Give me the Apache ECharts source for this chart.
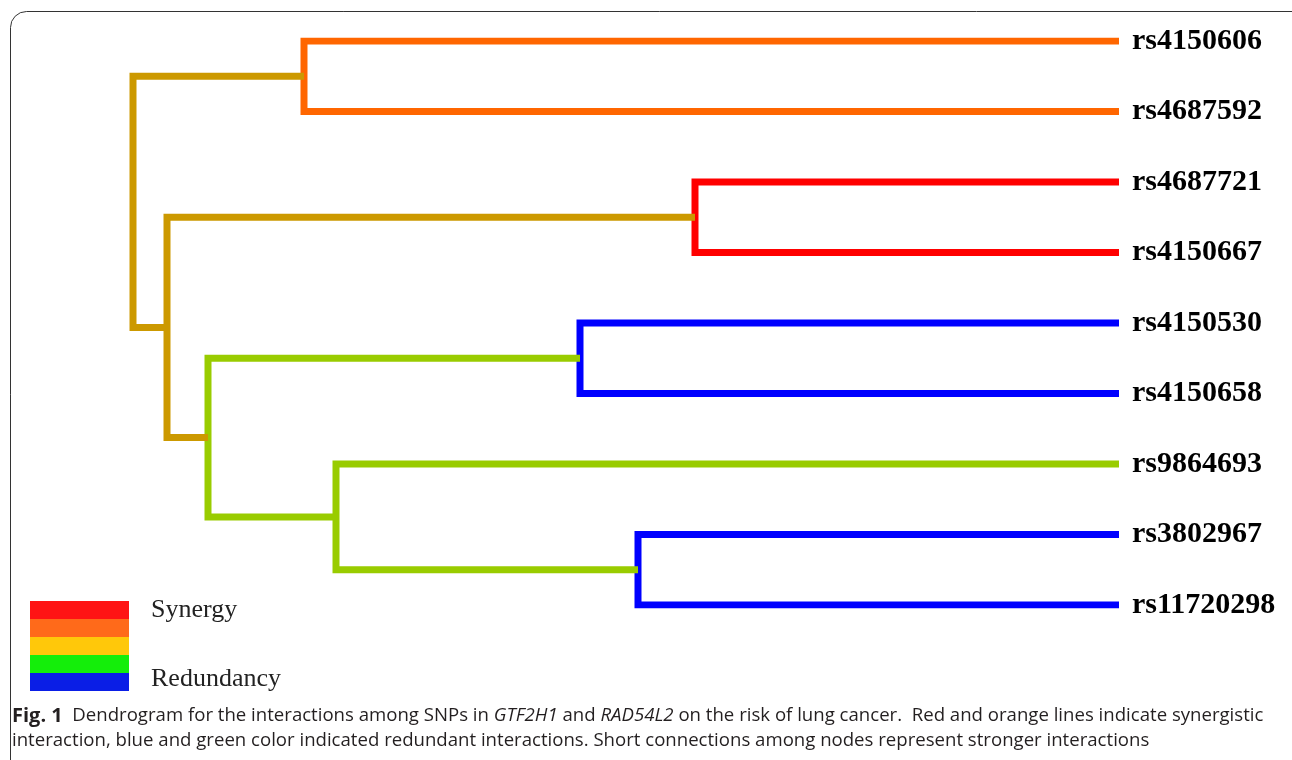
<!DOCTYPE html>
<html>
<head>
<meta charset="utf-8">
<script src="https://cdn.jsdelivr.net/npm/echarts@6/dist/echarts.min.js"></script>
<style>
  html, body { margin: 0; padding: 0; background: #fff; }
  #chart { width: 1292px; height: 760px; }
</style>
</head>
<body>
<div id="chart"></div>
<script>
// leaves, top to bottom
const leaves = ['rs4150606', 'rs4687592', 'rs4687721', 'rs4150667', 'rs4150530',
                'rs4150658', 'rs9864693', 'rs3802967', 'rs11720298'];
// merges: child refs are leaf indexes or 'cN' for an earlier merge
const joinA = [0, 2, 4, 7, 6, 'c2', 'c1', 'c0'];
const joinB = [1, 3, 5, 8, 'c3', 'c4', 'c5', 'c6'];
// merge distance (root = widest)
const joinHeight = [0.815, 0.424, 0.539, 0.481, 0.783, 0.911, 0.952, 0.986];
const joinColor = ['#ff6600', '#ff0000', '#0000ff', '#0000ff', '#99cc00', '#99cc00', '#cc9900', '#cc9900'];

const legendColors = ['#ff1414', '#ff6a1a', '#ffc80a', '#14ee0a', '#0a1ee6'];

const pos = []; // [height, y] of each merge
const at = ref => typeof ref === 'number' ? [0, ref] : pos[+ref.slice(1)];

const links = joinHeight.map((h, k) => {
    const a = at(joinA[k]);
    const b = at(joinB[k]);
    pos[k] = [h, (a[1] + b[1]) / 2];
    return {
        coords: [a, [h, a[1]], [h, b[1]], b],
        lineStyle: { color: joinColor[k] }
    };
});

const chart = echarts.init(document.getElementById('chart'));

const legendRects = legendColors.map((c, i) => ({
    type: 'rect',
    shape: { x: 30, y: 601 + i * 18, width: 99, height: 18 },
    style: { fill: c }
}));

const capFont = '18.6px "Open Sans"';

chart.setOption({
    animation: false,
    grid: { left: 119, right: 173, top: 41, bottom: 155 },
    xAxis: {
        type: 'value', min: 0, max: 1, inverse: true, show: false
    },
    yAxis: {
        type: 'value', min: 0, max: 8, interval: 1, inverse: true,
        position: 'right',
        axisLine: { show: false },
        axisTick: { show: false },
        splitLine: { show: false },
        axisLabel: {
            margin: 13,
            formatter: v => leaves[v] || '',
            color: '#000',
            fontFamily: 'Liberation Serif',
            fontWeight: 'bold',
            fontSize: 30
        }
    },
    series: [{
        type: 'lines',
        coordinateSystem: 'cartesian2d',
        polyline: true,
        silent: true,
        lineStyle: { width: 7, opacity: 1, cap: 'butt', join: 'miter' },
        data: links
    }],
    graphic: [
        {
            type: 'rect',
            shape: { x: 10.5, y: 11.5, width: 1300, height: 800, r: 16 },
            style: { fill: null, stroke: '#333', lineWidth: 1 },
            z: -1
        },
        ...legendRects,
        {
            type: 'text', left: 151, top: 597,
            style: { text: 'Synergy', font: '26px "Liberation Serif"', fill: '#222' }
        },
        {
            type: 'text', left: 151, top: 666,
            style: { text: 'Redundancy', font: '26px "Liberation Serif"', fill: '#222' }
        },
        {
            type: 'text', left: 12, top: 706,
            style: {
                text: '{b|Fig. 1}  Dendrogram for the interactions among SNPs in {i|GTF2H1} and {i|RAD54L2} on the risk of lung cancer.  Red and orange lines indicate synergistic',
                font: capFont, fill: '#231f20',
                rich: {
                    b: { font: 'bold 20px "Open Sans"', fill: '#231f20' },
                    i: { font: 'italic 18.6px "Open Sans"', fill: '#231f20' }
                }
            }
        },
        {
            type: 'text', left: 12, top: 731,
            style: {
                text: 'interaction, blue and green color indicated redundant interactions. Short connections among nodes represent stronger interactions',
                font: capFont, fill: '#231f20'
            }
        }
    ]
});
</script>
</body>
</html>
